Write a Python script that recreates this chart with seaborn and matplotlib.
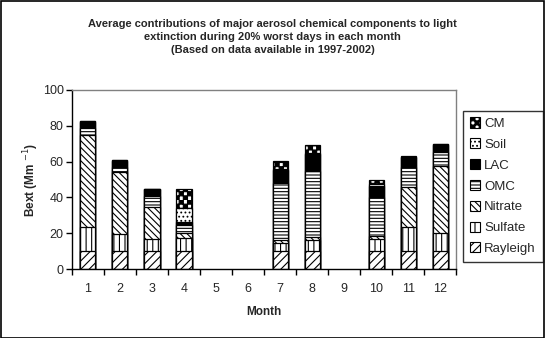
import warnings
import numpy as np
import pandas as pd
import matplotlib
matplotlib.use("Agg")
import matplotlib.pyplot as plt
import matplotlib.patches as mpatches
from matplotlib import hatch as mhatch
from matplotlib.path import Path
import seaborn as sns

warnings.filterwarnings("ignore")

months = ["1", "2", "3", "4", "5", "6", "7", "8", "9", "10", "11", "12"]
components = ["Rayleigh", "Sulfate", "Nitrate", "OMC", "LAC", "Soil", "CM"]

nan = np.nan
# months 5, 6 and 9 have no data
rayleigh = [10, 10, 10, 10, nan, nan, 10, 10, nan, 10, 10, 10]
sulfate = [13.6, 9.4, 6.6, 7.6, nan, nan, 4.5, 6.0, nan, 6.6, 13.3, 10.3]
nitrate = [51.3, 34.6, 18.0, 2.6, nan, nan, 1.6, 2.0, nan, 1.8, 22.7, 37.0]
omc = [4.0, 3.1, 6.0, 4.5, nan, nan, 32.0, 37.0, nan, 22.0, 11.0, 8.0]
lac = [3.4, 3.4, 4.0, 1.4, nan, nan, 7.0, 9.0, nan, 6.0, 5.5, 3.8]
soil = [0.4, 0.4, 0.2, 8.0, nan, nan, 0.5, 1.0, nan, 1.0, 0.3, 0.5]
cm = [0.0, 0.0, 0.0, 10.6, nan, nan, 4.5, 4.3, nan, 2.3, 0.3, 0.0]

values = [rayleigh, sulfate, nitrate, omc, lac, soil, cm]


class CheckerHatch(mhatch.HatchPatternBase):
    """Filled checkerboard squares, selected with the '#' hatch character."""

    def __init__(self, hatch, density):
        n = hatch.count("#") * density
        self.n = n - (n % 2)
        self.cells = [(i, j) for i in range(self.n) for j in range(self.n)
                      if (i + j) % 2 == 0]
        self.num_vertices = len(self.cells) * 5

    def set_vertices_and_codes(self, vertices, codes):
        s = 1.0 / self.n
        for k, (i, j) in enumerate(self.cells):
            x0, y0 = i * s, j * s
            vertices[5 * k:5 * k + 5] = [(x0, y0), (x0 + s, y0), (x0 + s, y0 + s),
                                         (x0, y0 + s), (x0, y0)]
            codes[5 * k] = Path.MOVETO
            codes[5 * k + 1:5 * k + 4] = Path.LINETO
            codes[5 * k + 4] = Path.CLOSEPOLY


mhatch._hatch_types.append(CheckerHatch)

styles = {
    "Rayleigh": dict(color="white", hatch="////"),
    "Sulfate": dict(color="white", hatch="|||"),
    "Nitrate": dict(color="white", hatch="\\\\\\\\\\"),
    "OMC": dict(color="white", hatch="-----"),
    "LAC": dict(color="black", hatch=None),
    "Soil": dict(color="white", hatch="...."),
    "CM": dict(color="white", hatch="####"),
}

sns.set_theme(style="white")
plt.rcParams["font.family"] = ["Liberation Sans", "DejaVu Sans"]
plt.rcParams["hatch.color"] = "black"
plt.rcParams["hatch.linewidth"] = 0.8

fig = plt.figure(figsize=(5.45, 3.38), dpi=100)
ax = fig.add_axes([0.132, 0.204, 0.705, 0.530])

cumulative = np.cumsum(np.array(values, dtype=float), axis=0)
for idx in range(len(components) - 1, -1, -1):
    name = components[idx]
    df = pd.DataFrame({"Month": months, "Bext": cumulative[idx]})
    st = styles[name]
    sns.barplot(data=df, x="Month", y="Bext", order=months, color=st["color"],
                saturation=1, edgecolor="black", linewidth=0.9,
                hatch=st["hatch"], width=0.47, ax=ax, errorbar=None)

ax.set_xlim(-0.5, 11.5)
ax.set_ylim(0, 100)
ax.set_yticks(np.arange(0, 101, 20))
ax.set_xticks(range(12))
ax.set_xticklabels(months)
ax.set_xticks(np.arange(-0.5, 12, 1), minor=True)
ax.tick_params(axis="x", which="major", length=0, labelsize=9, pad=10)
ax.tick_params(axis="x", which="minor", length=4, width=1, color="black",
               direction="out", bottom=True)
ax.tick_params(axis="y", length=4, width=1, color="black", direction="out",
               left=True, labelsize=9, pad=2)
for side in ["left", "bottom"]:
    ax.spines[side].set_color("black")
    ax.spines[side].set_linewidth(1)
for side in ["top", "right"]:
    ax.spines[side].set_color("#808080")
    ax.spines[side].set_linewidth(1)
ax.grid(False)
ax.set_facecolor("white")

ax.set_xlabel("Month", fontsize=8.5, fontweight="bold", labelpad=8)
ax.set_ylabel("Bext (Mm $^{-1}$)", fontsize=8.5, fontweight="bold", labelpad=1)

fig.text(0.5, 0.945,
         "Average contributions of major aerosol chemical components to light\n"
         "extinction during 20% worst days in each month\n"
         "(Based on data available in 1997-2002)",
         ha="center", va="top", fontsize=8, fontweight="bold", linespacing=1.4)

handles = []
for name in reversed(components):
    st = styles[name]
    handles.append(mpatches.Patch(facecolor=st["color"], edgecolor="black",
                                  hatch=st["hatch"], linewidth=0.8, label=name))
leg = fig.legend(handles=handles, loc="upper left",
                 bbox_to_anchor=(0.85, 0.672), frameon=True, fontsize=9.5,
                 handlelength=0.8, handleheight=0.8, handletextpad=0.3,
                 labelspacing=0.62, borderpad=0.5, borderaxespad=0,
                 fancybox=False)
leg.get_frame().set_edgecolor("black")
leg.get_frame().set_linewidth(1)

fig.patches.append(mpatches.Rectangle((0.001, 0.001), 0.997, 0.996,
                                      transform=fig.transFigure, fill=False,
                                      edgecolor="black", linewidth=1.2))

fig.savefig("out.png", dpi=100, facecolor="white")
